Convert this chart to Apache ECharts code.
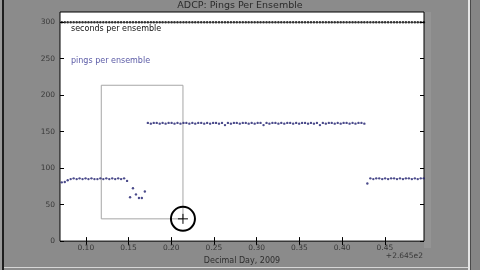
<!DOCTYPE html>
<html><head><meta charset="utf-8">
<script src="https://cdn.jsdelivr.net/npm/echarts@6/dist/echarts.min.js"></script>
<style>
html,body{margin:0;padding:0;background:#8b8b8b;overflow:hidden;}
#wrap{position:relative;width:480px;height:270px;}
.d{position:absolute;}
#c{position:absolute;left:0;top:0;width:480px;height:270px;}
</style>
</head><body><div id="wrap">
<div class="d" style="left:0;top:0;width:2px;height:270px;background:#9a9a9a"></div>
<div class="d" style="left:2px;top:0;width:2px;height:270px;background:#1e1e1e"></div>
<div class="d" style="left:4px;top:267px;width:464px;height:1px;background:#d6d6d6"></div>
<div class="d" style="left:424px;top:12px;width:7px;height:236px;background:#949494"></div>
<div class="d" style="left:468px;top:0;width:2px;height:270px;background:#e6e6e6"></div>
<div class="d" style="left:470px;top:0;width:1px;height:270px;background:#4a4a4a"></div>
<div class="d" style="left:471px;top:0;width:9px;height:270px;background:#858585"></div>
<div id="c"></div></div>
<script>
const times = [
0.0719,0.0754,0.0788,0.0823,0.0858,0.0893,0.0927,0.0962,0.0997,0.1031,
0.1066,0.1101,0.1136,0.1170,0.1205,0.1240,0.1275,0.1309,0.1344,0.1379,
0.1413,0.1448,0.1483,0.1518,0.1552,0.1587,0.1622,0.1656,0.1691,0.1726,
0.1761,0.1795,0.1830,0.1865,0.1899,0.1934,0.1969,0.2004,0.2038,0.2073,
0.2108,0.2143,0.2177,0.2212,0.2247,0.2281,0.2316,0.2351,0.2386,0.2420,
0.2455,0.2490,0.2524,0.2559,0.2594,0.2629,0.2663,0.2698,0.2733,0.2767,
0.2802,0.2837,0.2872,0.2906,0.2941,0.2976,0.3011,0.3045,0.3080,0.3115,
0.3149,0.3184,0.3219,0.3254,0.3288,0.3323,0.3358,0.3392,0.3427,0.3462,
0.3497,0.3531,0.3566,0.3601,0.3635,0.3670,0.3705,0.3740,0.3774,0.3809,
0.3844,0.3878,0.3913,0.3948,0.3983,0.4017,0.4052,0.4087,0.4122,0.4156,
0.4191,0.4226,0.4260,0.4295,0.4330,0.4365,0.4399,0.4434,0.4469,0.4503,
0.4538,0.4573,0.4608,0.4642,0.4677,0.4712,0.4746,0.4781,0.4816,0.4851,
0.4885,0.4920,0.4955];
const secondsPerEnsemble = [
300,300,300,300,300,300,300,300,300,300,
300,300,300,300,300,300,300,300,300,300,
300,300,300,300,300,300,300,300,300,300,
300,300,300,300,300,300,300,300,300,300,
300,300,300,300,300,300,300,300,300,300,
300,300,300,300,300,300,300,300,300,300,
300,300,300,300,300,300,300,300,300,300,
300,300,300,300,300,300,300,300,300,300,
300,300,300,300,300,300,300,300,300,300,
300,300,300,300,300,300,300,300,300,300,
300,300,300,300,300,300,300,300,300,300,
300,300,300,300,300,300,300,300,300,300,
300,300,300];
const pingsPerEnsemble = [
80.5,81,83.5,85,86,85,86,85,86,85,86,85,85,86,85,86,85,86,85,86,85,86,82.5,
60,72.5,64,59,59,68,
162,161,162,162,161,162,161,162,162,161,
162,161,162,162,161,162,161,162,162,161,
162,161,162,162,161,162,159,162,161,162,
162,161,162,162,161,162,161,162,162,159,
162,161,162,162,161,162,161,162,162,161,
162,161,162,162,161,162,161,162,159,162,
161,162,162,161,162,161,162,162,161,162,
161,162,162,161,
79,
86,85,86,86,85,86,85,86,86,85,86,85,86,86,85,86,85,86,86];
const xTicks = [0.10,0.15,0.20,0.25,0.30,0.35,0.40,0.45];
const yTicks = [0,50,100,150,200,250,300];
const zoomBoxX = [0.1181,0.2137,0.2137,0.1181,0.1181];
const zoomBoxY = [213.6,213.6,30.5,30.5,213.6];
const cursorPos = [0.2137,30.5];

const FONT = 'DejaVu Sans';
const xMin = 0.0698, xMax = 0.4958, yMin = 0, yMax = 314;

const chart = echarts.init(document.getElementById('c'), null, {renderer:'canvas'});
const tickStyle = {show:true, inside:true, length:4, lineStyle:{color:'#000', width:1}};
const option = {
  backgroundColor: 'transparent',
  animation: false,
  title: {text:'ADCP: Pings Per Ensemble', left:'center', top:-4,
    textStyle:{fontFamily:FONT, fontSize:9.5, fontWeight:'normal', color:'#2a2a2a'}},
  grid: {left:60, right:56, top:12, bottom:27, show:true, backgroundColor:'#fff', borderColor:'#000', borderWidth:1},
  xAxis: [
    {type:'value', min:xMin, max:xMax, position:'bottom',
     name:'Decimal Day, 2009', nameLocation:'middle', nameGap:11,
     nameTextStyle:{fontFamily:FONT, fontSize:8, color:'#2e2e2e'},
     axisLine:{show:false}, splitLine:{show:false},
     axisTick:Object.assign({customValues:xTicks}, tickStyle),
     axisLabel:{customValues:xTicks, margin:3, fontFamily:FONT, fontSize:7.5, color:'#383838',
       formatter:v=>v.toFixed(2)}},
    {type:'value', min:xMin, max:xMax, position:'top',
     axisLine:{show:false}, splitLine:{show:false},
     axisTick:Object.assign({customValues:xTicks}, tickStyle),
     axisLabel:{show:false}}
  ],
  yAxis: [
    {type:'value', min:yMin, max:yMax, position:'left',
     axisLine:{show:false}, splitLine:{show:false},
     axisTick:Object.assign({customValues:yTicks}, tickStyle),
     axisLabel:{customValues:yTicks, margin:5, fontFamily:FONT, fontSize:7.5, color:'#383838'}},
    {type:'value', min:yMin, max:yMax, position:'right',
     axisLine:{show:false}, splitLine:{show:false},
     axisTick:Object.assign({customValues:yTicks}, tickStyle),
     axisLabel:{show:false}}
  ],
  series: [
    {name:'zoom box', type:'line', xAxisIndex:0, yAxisIndex:0, silent:true, showSymbol:false,
     data: zoomBoxX.map((x,i)=>[x, zoomBoxY[i]]),
     lineStyle:{color:'#a6a6a6', width:1}, z:1},
    {name:'seconds per ensemble', type:'scatter', xAxisIndex:0, yAxisIndex:0, silent:true,
     symbol:'circle', symbolSize:2.6,
     data: times.map((t,i)=>[t, secondsPerEnsemble[i]]),
     itemStyle:{color:'#000'}, z:3},
    {name:'pings per ensemble', type:'scatter', xAxisIndex:0, yAxisIndex:0, silent:true,
     symbol:'circle', symbolSize:2.4,
     data: times.map((t,i)=>[t, pingsPerEnsemble[i]]),
     itemStyle:{color:'#1e1e6e'}, z:3}
  ]
};
chart.setOption(option);

const p = chart.convertToPixel({xAxisIndex:0, yAxisIndex:0}, cursorPos);
chart.setOption({
  graphic: [
    {type:'text', id:'lblSec', left:71, top:25, z:100,
     style:{text:'seconds per ensemble', font:'8px "DejaVu Sans"', fill:'#111'}},
    {type:'text', id:'lblPing', left:71, top:57, z:100,
     style:{text:'pings per ensemble', font:'8px "DejaVu Sans"', fill:'#5b5ba6'}},
    {type:'text', id:'offset', x:423, y:256, z:100,
     style:{text:'+2.645e2', font:'7.5px "DejaVu Sans"', fill:'#383838', align:'right', verticalAlign:'middle'}},
    {type:'circle', id:'ring', z:100, shape:{cx:p[0], cy:p[1], r:12},
     style:{fill:null, stroke:'#000', lineWidth:2}},
    {type:'line', id:'crossH', z:100, shape:{x1:p[0]-5, y1:p[1], x2:p[0]+5, y2:p[1]},
     style:{stroke:'#000', lineWidth:1}},
    {type:'line', id:'crossV', z:100, shape:{x1:p[0], y1:p[1]-5, x2:p[0], y2:p[1]+5},
     style:{stroke:'#000', lineWidth:1}}
  ]
});
</script></body></html>
